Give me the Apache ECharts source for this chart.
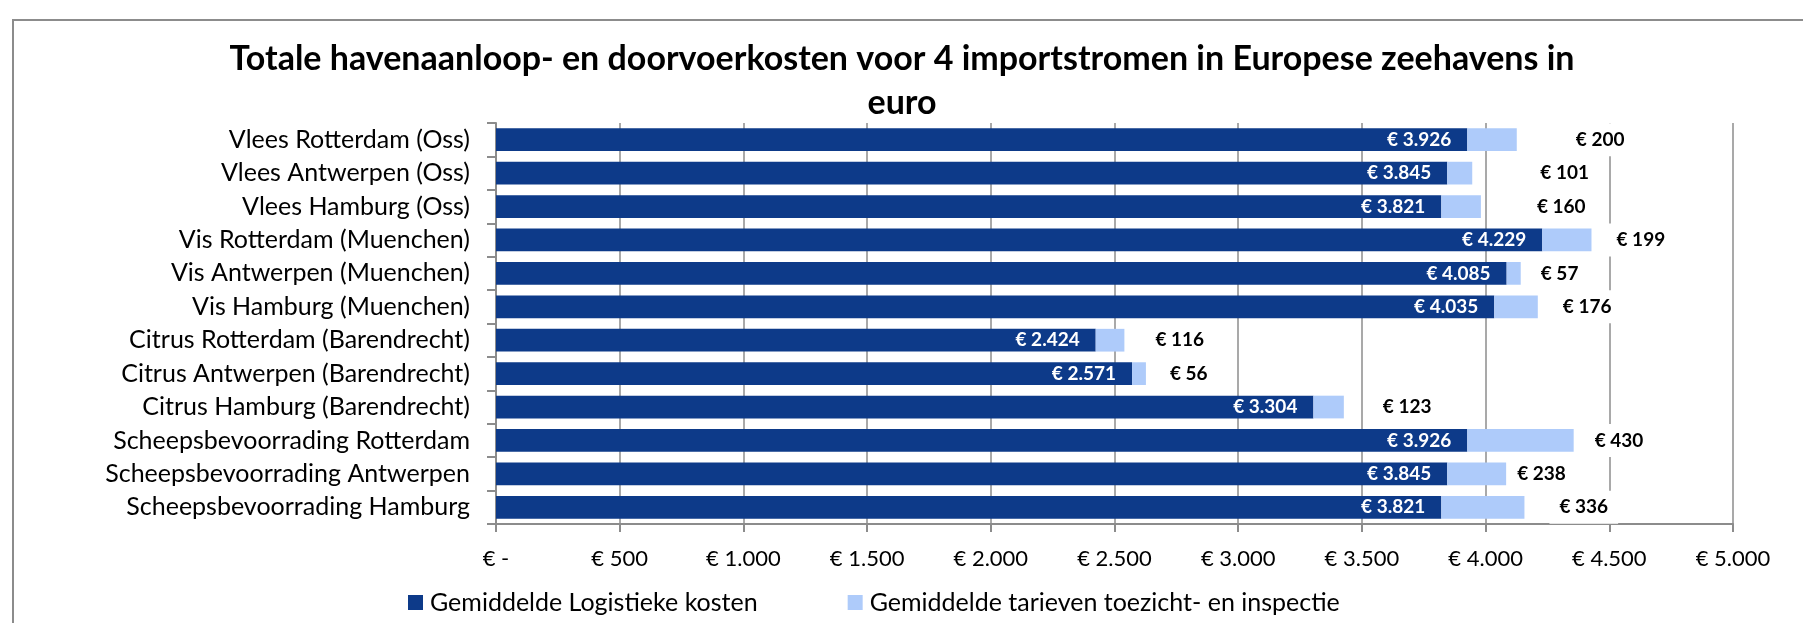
<!DOCTYPE html>
<html>
<head>
<meta charset="utf-8">
<script src="https://cdn.jsdelivr.net/npm/echarts@6/dist/echarts.min.js"></script>
<style>
  html, body { margin: 0; background: #fff; }
  #chart { width: 1803px; height: 623px; }
</style>
</head>
<body>
<div id="chart"></div>
<script>
const categories = [
  'Vlees Rotterdam (Oss)',
  'Vlees Antwerpen (Oss)',
  'Vlees Hamburg (Oss)',
  'Vis Rotterdam (Muenchen)',
  'Vis Antwerpen (Muenchen)',
  'Vis Hamburg (Muenchen)',
  'Citrus Rotterdam (Barendrecht)',
  'Citrus Antwerpen (Barendrecht)',
  'Citrus Hamburg (Barendrecht)',
  'Scheepsbevoorrading Rotterdam',
  'Scheepsbevoorrading Antwerpen',
  'Scheepsbevoorrading Hamburg'
];
const logistiek = [3926, 3845, 3821, 4229, 4085, 4035, 2424, 2571, 3304, 3926, 3845, 3821];
const toezicht = [200, 101, 160, 199, 57, 176, 116, 56, 123, 430, 238, 336];
const seriesNames = ['Gemiddelde Logistieke kosten', 'Gemiddelde tarieven toezicht- en inspectie'];

// how far each outside label was dragged away from its bar end (px)
const labelGap = [59, 68, 56, 25, 20, 25, 31, 24, 39, 21, 11, 35];

const FONT = 'Lato, "Noto Sans", sans-serif';
const GRID = '#8c8c8c';

function eur(v) {
  if (v === 0) return '€ -';
  return '€ ' + String(v).replace(/\B(?=(\d{3})+(?!\d))/g, '.');
}

const chart = echarts.init(document.getElementById('chart'));
const pad = 10;

chart.setOption({
  animation: false,
  textStyle: { fontFamily: FONT },
  graphic: [{
    type: 'rect',
    shape: { x: 13, y: 20, width: 1800, height: 620 },
    style: { fill: 'none', stroke: GRID, lineWidth: 2 },
    silent: true
  }],
  title: {
    text: 'Totale havenaanloop- en doorvoerkosten voor 4 importstromen in Europese zeehavens in\neuro',
    left: 897,
    textAlign: 'center',
    top: 32,
    textStyle: { fontFamily: FONT, fontWeight: 'bold', fontSize: 34, lineHeight: 44, color: '#000' }
  },
  legend: {
    left: 403,
    top: 585,
    itemWidth: 15,
    itemHeight: 15,
    itemGap: 90,
    icon: 'rect',
    textStyle: { fontFamily: FONT, fontSize: 25, color: '#000', padding: [0, 0, 0, 2] },
    data: seriesNames
  },
  grid: { left: 496, right: 70, top: 123, bottom: 99, containLabel: false },
  xAxis: {
    type: 'value',
    min: 0,
    max: 5000,
    interval: 500,
    axisLine: { show: true, lineStyle: { color: GRID, width: 2 } },
    axisTick: { show: true, length: 8, lineStyle: { color: GRID, width: 2 } },
    splitLine: { show: true, lineStyle: { color: GRID, width: 1.5 } },
    axisLabel: { formatter: eur, fontFamily: FONT, fontSize: 22, color: '#000', margin: 24 }
  },
  yAxis: {
    type: 'category',
    inverse: true,
    data: categories,
    axisLine: { show: true, lineStyle: { color: GRID, width: 2 } },
    axisTick: { show: true, length: 9, lineStyle: { color: GRID, width: 2 } },
    axisLabel: { fontFamily: FONT, fontSize: 25, color: '#000', margin: 26 }
  },
  series: [
    {
      name: seriesNames[0],
      type: 'bar',
      stack: 'kosten',
      barCategoryGap: '32%',
      itemStyle: { color: '#0d3a89' },
      label: {
        show: true,
        position: 'insideRight',
        distance: 16,
        formatter: p => eur(p.value),
        fontFamily: FONT,
        fontWeight: 'bold',
        fontSize: 19,
        color: '#fff'
      },
      data: logistiek
    },
    {
      name: seriesNames[1],
      type: 'bar',
      stack: 'kosten',
      itemStyle: { color: '#aecbfa' },
      data: toezicht.map((v, i) => ({
        value: v,
        label: {
          show: true,
          position: 'right',
          distance: labelGap[i] - pad,
          formatter: p => eur(p.value),
          fontFamily: FONT,
          fontWeight: 'bold',
          fontSize: 19,
          color: '#000',
          backgroundColor: '#fff',
          padding: [7, pad]
        }
      }))
    }
  ]
});
</script>
</body>
</html>
